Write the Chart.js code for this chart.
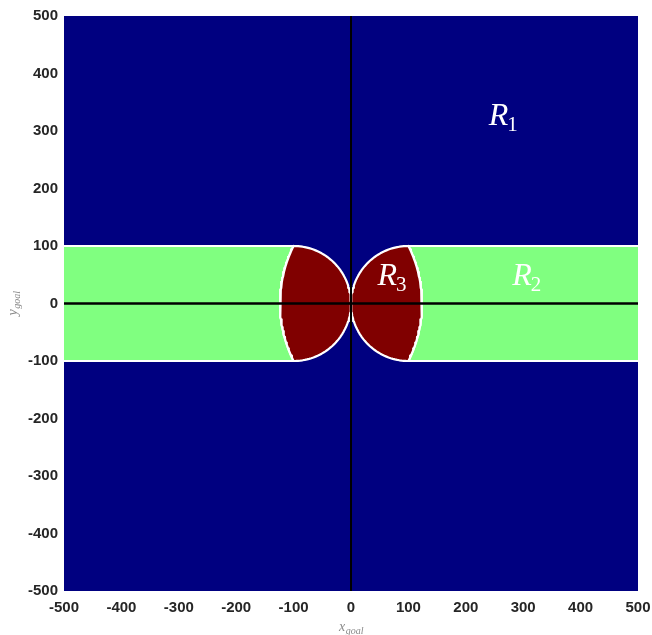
<!DOCTYPE html>
<html>
<head>
<meta charset="utf-8">
<script src="https://cdn.jsdelivr.net/npm/chart.js@4.4.1/dist/chart.umd.min.js"></script>
<style>
  html, body { margin: 0; padding: 0; background: #ffffff; }
  #wrap { width: 652px; height: 635px; }
</style>
</head>
<body>
<div id="wrap"><canvas id="c" width="652" height="635"></canvas></div>
<script>
// Axis extents and ticks
const xTicks = [-500, -400, -300, -200, -100, 0, 100, 200, 300, 400, 500];
const yTicks = [-500, -400, -300, -200, -100, 0, 100, 200, 300, 400, 500];

// Region geometry (goal-position map)
const bandHalfWidth = 100;                 // R2 band: |y| <= 100
const innerCircleCentres = [100, -100];    // inner arcs: circles through the origin
const innerRadius = 100;
const outerCircleCentres = [-100, 100];    // outer arcs bounding each R3 lobe
const outerRadius = Math.sqrt(200 * 200 + 100 * 100);

// Region labels: [name, subscript, x, y]
const regionLabels = [
  ['R', '1', 240, 310],
  ['R', '2', 281, 32],
  ['R', '3', 46, 32]
];

const NAVY = '#000080';
const GREEN = '#80ff80';
const DARKRED = '#800000';

function arc(cx, cy, r, a0, a1, n) {
  const pts = [];
  for (let i = 0; i <= n; i++) {
    const a = a0 + (a1 - a0) * i / n;
    pts.push({ x: cx + r * Math.cos(a), y: cy + r * Math.sin(a) });
  }
  return pts;
}

// Outer arc of the lobe on side s (+1 right, -1 left), from y=+100 to y=-100
function outerArc(s) {
  const cx = outerCircleCentres[s > 0 ? 0 : 1];
  const a = Math.atan2(bandHalfWidth, 200);
  if (s > 0) return arc(cx, 0, outerRadius, a, -a, 60);
  return arc(cx, 0, outerRadius, Math.PI - a, Math.PI + a, 60);
}

// Inner arc of the lobe on side s, from y=-100 through the origin to y=+100
function innerArc(s) {
  const cx = innerCircleCentres[s > 0 ? 0 : 1];
  if (s > 0) return arc(cx, 0, innerRadius, 1.5 * Math.PI, 0.5 * Math.PI, 80);
  return arc(cx, 0, innerRadius, -0.5 * Math.PI, 0.5 * Math.PI, 80);
}

function greenBand(s) {
  const far = 540 * s;
  return [{ x: far, y: bandHalfWidth }]
    .concat(outerArc(s))
    .concat([{ x: far, y: -bandHalfWidth }, { x: far, y: bandHalfWidth }]);
}

function lobe(s) {
  const o = outerArc(s);
  return o.concat(innerArc(s).slice(1));
}

const background = [
  { x: -540, y: -540 }, { x: 540, y: -540 }, { x: 540, y: 540 }, { x: -540, y: 540 }, { x: -540, y: -540 }
];

function shape(data, fillColor, border, order) {
  return {
    data: data, showLine: true, fill: 'shape', tension: 0, clip: 0,
    backgroundColor: fillColor, borderColor: border ? '#ffffff' : fillColor,
    borderWidth: border ? 2.2 : 0, borderJoinStyle: 'round', borderCapStyle: 'round',
    pointRadius: 0, order: order
  };
}

const datasets = [
  shape(background, NAVY, false, 5),
  shape(greenBand(1), GREEN, true, 4),
  shape(greenBand(-1), GREEN, true, 4),
  shape(lobe(1), DARKRED, true, 3),
  shape(lobe(-1), DARKRED, true, 3),
  { data: [{ x: 0, y: -540 }, { x: 0, y: 540 }], showLine: true, fill: false, clip: 0,
    borderColor: '#000000', borderWidth: 2, pointRadius: 0, order: 1 },
  { data: [{ x: -540, y: 0 }, { x: 540, y: 0 }], showLine: true, fill: false, clip: 0,
    borderColor: '#000000', borderWidth: 2.5, pointRadius: 0, order: 1 }
];

const textPlugin = {
  id: 'regionText',
  afterDatasetsDraw(chart) {
    const ctx = chart.ctx;
    const xs = chart.scales.x, ys = chart.scales.y;
    ctx.save();
    ctx.fillStyle = '#ffffff';
    ctx.textBaseline = 'alphabetic';
    ctx.textAlign = 'left';
    regionLabels.forEach(([name, sub, x, y]) => {
      const px = xs.getPixelForValue(x), py = ys.getPixelForValue(y);
      ctx.font = 'italic 32px "Liberation Serif"';
      ctx.fillText(name, px, py);
      const w = ctx.measureText(name).width;
      ctx.font = '21px "Liberation Serif"';
      ctx.fillText(sub, px + w - 1, py + 6);
    });
    ctx.restore();
  },
  afterDraw(chart) {
    const ctx = chart.ctx;
    const xs = chart.scales.x;
    const area = chart.chartArea;
    ctx.save();
    ctx.fillStyle = '#8a8a8a';
    ctx.textBaseline = 'alphabetic';
    // x-axis title
    const cx = xs.getPixelForValue(0);
    ctx.font = 'italic 14px "Liberation Serif"';
    const xw = ctx.measureText('x').width;
    ctx.font = 'italic 10px "Liberation Serif"';
    const gw = ctx.measureText('goal').width;
    let sx = cx - (xw + gw) / 2;
    ctx.font = 'italic 14px "Liberation Serif"';
    ctx.fillText('x', sx, 631);
    ctx.font = 'italic 10px "Liberation Serif"';
    ctx.fillText('goal', sx + xw + 0.5, 634);
    // y-axis title
    const cy = (area.top + area.bottom) / 2;
    ctx.translate(17, cy);
    ctx.rotate(-Math.PI / 2);
    ctx.font = 'italic 14px "Liberation Serif"';
    const yw = ctx.measureText('y').width;
    ctx.font = 'italic 10px "Liberation Serif"';
    const gw2 = ctx.measureText('goal').width;
    sx = -(yw + gw2) / 2;
    ctx.font = 'italic 14px "Liberation Serif"';
    ctx.fillText('y', sx, 0);
    ctx.font = 'italic 10px "Liberation Serif"';
    ctx.fillText('goal', sx + yw + 0.5, 3);
    ctx.restore();
  }
};

const tickFont = { family: '"Liberation Sans", Arial, sans-serif', size: 15, weight: 'bold' };

new Chart(document.getElementById('c'), {
  type: 'scatter',
  data: { datasets: datasets },
  plugins: [textPlugin],
  options: {
    responsive: false,
    animation: false,
    layout: { padding: { top: 16, right: 14, left: 0, bottom: 0 } },
    plugins: { legend: { display: false }, tooltip: { enabled: false } },
    scales: {
      x: {
        type: 'linear', min: -500, max: 500,
        afterBuildTicks: (s) => { s.ticks = xTicks.map(v => ({ value: v })); },
        afterFit: (s) => { s.height = 44; s.paddingLeft = 0; s.paddingRight = 0; },
        grid: { display: false, drawTicks: false },
        border: { display: false },
        ticks: { font: tickFont, color: '#262626', padding: 8, maxRotation: 0, autoSkip: false }
      },
      y: {
        type: 'linear', min: -500, max: 500,
        afterBuildTicks: (s) => { s.ticks = yTicks.map(v => ({ value: v })); },
        afterFit: (s) => { s.width = 64; s.paddingTop = 0; s.paddingBottom = 0; },
        grid: { display: false, drawTicks: false },
        border: { display: false },
        ticks: { font: tickFont, color: '#262626', padding: 6, autoSkip: false }
      }
    }
  }
});
</script>
</body>
</html>
